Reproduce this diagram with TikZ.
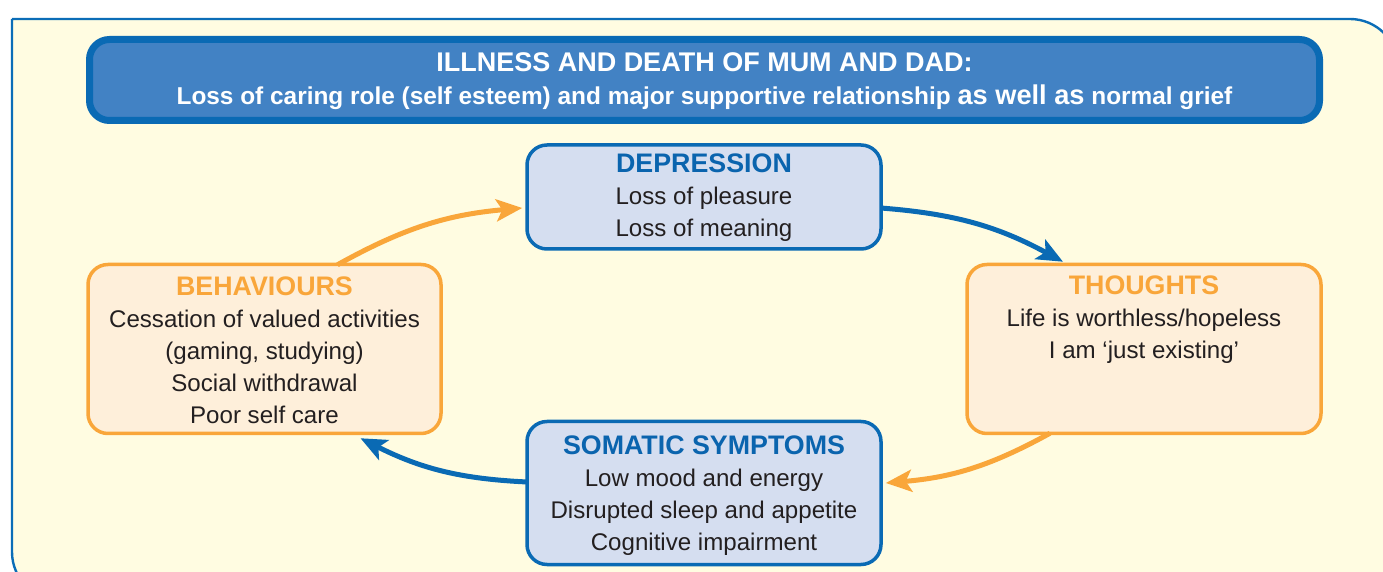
\documentclass[tikz,border=0pt]{standalone}
\usepackage{fontspec}
\setmainfont{Liberation Sans}
\usetikzlibrary{arrows.meta,calc}
\definecolor{bgyellow}{HTML}{FFFCE1}
\definecolor{frameblue}{HTML}{0B6DB7}
\definecolor{topfill}{HTML}{4282C4}
\definecolor{boxblue}{HTML}{0A6AB4}
\definecolor{bluefill}{HTML}{D5DEF0}
\definecolor{orangeline}{HTML}{F9A63A}
\definecolor{orangefill}{HTML}{FEEFDA}
\definecolor{headblue}{HTML}{0A64AE}
\definecolor{bodytext}{HTML}{231F20}
\tikzset{
  bluebox/.style={draw=boxblue, fill=bluefill, line width=1.75pt, rounded corners=10pt, inner sep=0pt},
  orangebox/.style={draw=orangeline, fill=orangefill, line width=1.75pt, rounded corners=10pt, inner sep=0pt},
  boxtext/.style={align=center, text=bodytext, inner sep=0pt, font=\fontsize{12.05}{16}\selectfont},
  blueconn/.style={draw=boxblue, line width=2.5pt, -{Stealth[length=13pt,width=11pt,inset=3pt]}},
  orangeconn/.style={draw=orangeline, line width=2.5pt, -{Stealth[length=13pt,width=11pt,inset=3pt]}},
}
\newcommand{\headfont}{\fontsize{13.4}{16}\selectfont\bfseries}
\begin{document}
\begin{tikzpicture}[x=0.5pt,y=-0.5pt]
\useasboundingbox (0,0) rectangle (1383,572);
\begin{scope}
\clip (0,0) rectangle (1383,572);
\path[fill=bgyellow, draw=frameblue, line width=1.2pt, rounded corners=24pt]
  (12,19) -- (1398,19) -- (1398,600) -- (12,600) -- (12,19);
\end{scope}
% top box
\node[draw=boxblue, fill=topfill, line width=3.5pt, rounded corners=10pt,
      minimum width=615pt, minimum height=40.5pt, inner sep=0pt] (top) at (704.5,80) {};
\node[align=center, text=white, inner sep=0pt, font=\fontsize{12.2}{16.5}\selectfont\bfseries] (toptext) at (704.5,81.5)
  {{\fontsize{13.5}{16.5}\selectfont ILLNESS AND DEATH OF MUM AND DAD:}\\
   Loss of caring role (self esteem) and major supportive relationship {\fontsize{13.6}{16.5}\selectfont as well as} normal grief};
% boxes
\node[bluebox, minimum width=177pt, minimum height=52pt] (dep) at (704,197) {};
\node[boxtext] (deptext) at (704,197.5)
  {{\headfont\color{headblue}DEPRESSION}\\Loss of pleasure\\Loss of meaning};
\node[orangebox, minimum width=176.5pt, minimum height=84.5pt] (beh) at (264.5,349) {};
\node[boxtext] (behtext) at (264.5,350)
  {{\headfont\color{orangeline}BEHAVIOURS}\\Cessation of valued activities\\(gaming, studying)\\Social withdrawal\\Poor self care};
\node[orangebox, minimum width=177pt, minimum height=84.5pt] (th) at (1144,349) {};
\node[boxtext] (thtext) at (1144,319.5)
  {{\headfont\color{orangeline}THOUGHTS}\\Life is worthless/hopeless\\I am ‘just existing’};
\node[bluebox, minimum width=177pt, minimum height=71.5pt] (som) at (704,493) {};
\node[boxtext] (somtext) at (704,495.5)
  {{\headfont\color{headblue}SOMATIC SYMPTOMS}\\Low mood and energy\\Disrupted sleep and appetite\\Cognitive impairment};
% connectors
\draw[orangeconn] ($(beh.north)+(73,2)$) to[bend left=12] ($(dep.west)+(-3,11)$);
\draw[blueconn] ($(dep.east)+(-2,11)$) to[bend left=12] ($(th.north)+(-81,-1)$);
\draw[orangeconn] ($(th.south)+(-94,-2)$) to[bend left=12] ($(som.east)+(3,-10)$);
\draw[blueconn] ($(som.west)+(2,-11)$) to[bend left=12] ($(beh.south)+(96,3)$);
\end{tikzpicture}
\end{document}
